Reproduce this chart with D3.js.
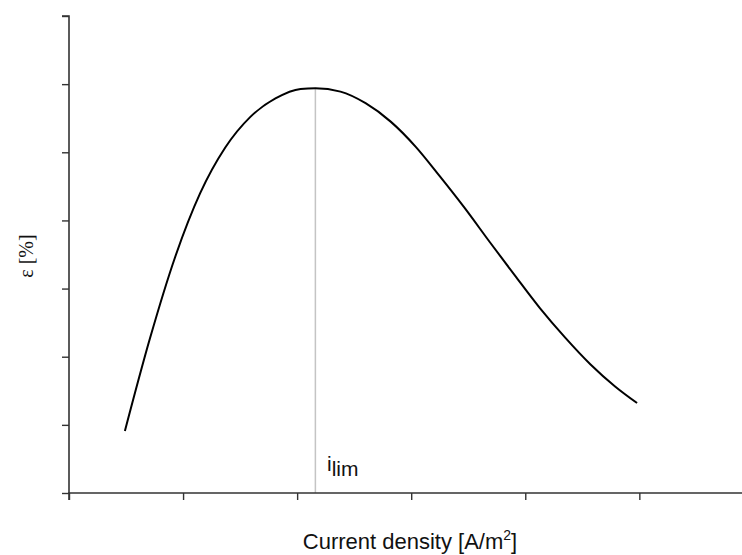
<!DOCTYPE html>
<html>
<head>
<meta charset="utf-8">
<script src="https://cdn.jsdelivr.net/npm/d3@7"></script>
<style>
  html, body { margin: 0; padding: 0; background: #fff; }
  svg { display: block; }
</style>
</head>
<body>
<div id="chart"></div>
<script>
// efficiency vs current density, peak at i_lim
const curveX = [0.49, 0.71, 0.93, 1.15, 1.37, 1.59, 1.81, 2.03, 2.16,
                2.38, 2.60, 2.82, 3.04, 3.25, 3.47, 3.69, 3.91, 4.13, 4.35, 4.57, 4.79, 4.98];
const curveY = [0.91, 2.27, 3.46, 4.40, 5.07, 5.52, 5.79, 5.93, 5.94,
                5.89, 5.72, 5.45, 5.08, 4.65, 4.18, 3.68, 3.19, 2.71, 2.28, 1.89, 1.56, 1.32];
const xTicks = [0, 1, 2, 3, 4, 5];
const yTicks = [0, 1, 2, 3, 4, 5, 6, 7];
const iLim = 2.16;
const iLimY = 5.94;

const W = 742, H = 555;
const x = d3.scaleLinear().domain([0, 5.9]).range([69, 742]);
const y = d3.scaleLinear().domain([0, 7]).range([493, 16]);

const svg = d3.select("#chart").append("svg")
  .attr("width", W).attr("height", H);

// i_lim marker line
svg.append("line")
  .attr("x1", x(iLim)).attr("x2", x(iLim))
  .attr("y1", y(0)).attr("y2", y(iLimY))
  .attr("stroke", "#c4c4c4").attr("stroke-width", 1.5);

// axes
const xAxis = svg.append("g").attr("transform", `translate(0,${y(0)})`)
  .call(d3.axisBottom(x).tickValues(xTicks).tickSize(7).tickFormat(""));
const yAxis = svg.append("g").attr("transform", `translate(${x(0)},0)`)
  .call(d3.axisLeft(y).tickValues(yTicks).tickSize(7).tickFormat(""));
[xAxis, yAxis].forEach(a => {
  a.select(".domain").attr("stroke", "#333").attr("stroke-width", 1.6);
  a.selectAll(".tick line").attr("stroke", "#333").attr("stroke-width", 1.4);
});
xAxis.select(".domain").attr("d", `M${x(0)},7V0H${W}`);
yAxis.select(".domain").attr("d", `M-7,${y(7)}H0V${y(0)}`);

// curve
const pts = curveX.map((v, i) => [v, curveY[i]]);
svg.append("path")
  .datum(pts)
  .attr("fill", "none")
  .attr("stroke", "#000").attr("stroke-width", 2)
  .attr("d", d3.line().x(d => x(d[0])).y(d => y(d[1])).curve(d3.curveMonotoneX));

// labels
const lbl = svg.append("text")
  .attr("x", 327).attr("y", 471)
  .attr("style", "font: 21px 'Liberation Sans', Arial, sans-serif; fill:#111");
lbl.append("tspan").text("i");
lbl.append("tspan").attr("dx", 0).attr("dy", 5).text("lim");

const xl = svg.append("text")
  .attr("x", 410).attr("y", 549).attr("text-anchor", "middle")
  .attr("style", "font: 22px 'Liberation Sans', Arial, sans-serif; fill:#111");
xl.append("tspan").text("Current density [A/m");
xl.append("tspan").attr("dy", -9).attr("font-size", 14).text("2");
xl.append("tspan").attr("dy", 9).text("]");

svg.append("text")
  .attr("transform", "translate(33,256) rotate(-90)")
  .attr("text-anchor", "middle")
  .attr("style", "font: 20px 'Liberation Serif', 'Times New Roman', serif; fill:#111")
  .text("ε [%]");
</script>
</body>
</html>
